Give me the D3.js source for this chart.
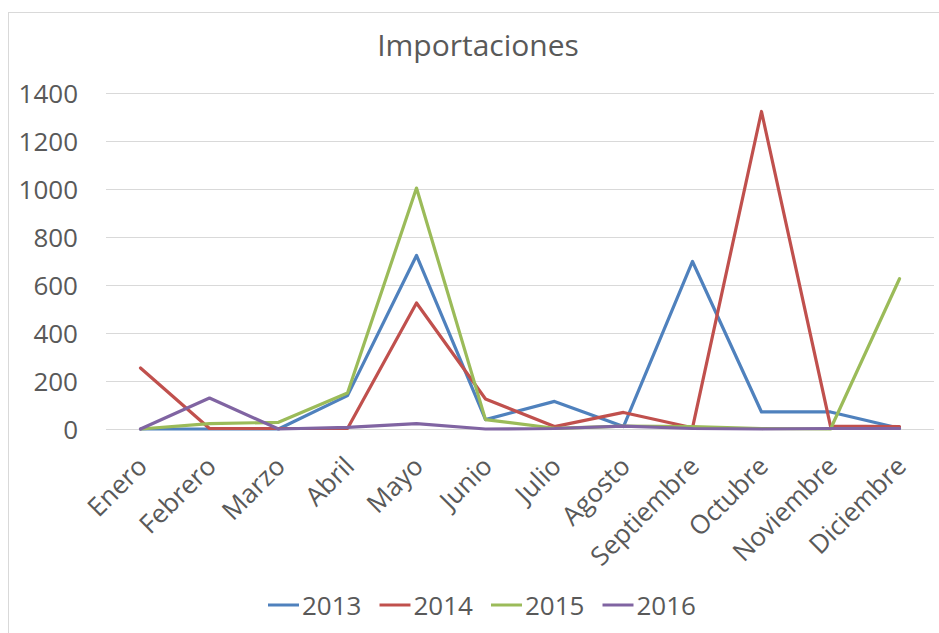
<!DOCTYPE html>
<html>
<head>
<meta charset="utf-8">
<script src="https://cdn.jsdelivr.net/npm/d3@7"></script>
<style>
  html, body { margin: 0; padding: 0; background: #fff; }
  svg { display: block; }
  text { font-family: "Open Sans", sans-serif; fill: #595959; }
</style>
</head>
<body>
<div id="chart"></div>
<script>
const months = ["Enero","Febrero","Marzo","Abril","Mayo","Junio","Julio","Agosto","Septiembre","Octubre","Noviembre","Diciembre"];
const years = ["2013","2014","2015","2016"];
const s2013 = [0, 0, 0, 139, 723, 39, 115, 10, 698, 71, 71, 3];
const s2014 = [254, 2, 2, 2, 525, 125, 10, 69, 5, 1323, 12, 10];
const s2015 = [0, 22, 28, 150, 1004, 39, 3, 12, 10, 2, 0, 626];
const s2016 = [0, 129, 0, 7, 22, 0, 2, 12, 2, 0, 2, 2];
const yTicks = [0, 200, 400, 600, 800, 1000, 1200, 1400];
const colors = ["#4F81BD", "#C0504D", "#9BBB59", "#8064A2"];

const series = [s2013, s2014, s2015, s2016];
const W = 939, H = 633;
const plot = {left: 106, right: 934, top: 93, bottom: 429};

const svg = d3.select("#chart").append("svg").attr("width", W).attr("height", H);

// frame
svg.append("rect").attr("x", 8.5).attr("y", 12.5).attr("width", W + 10).attr("height", H + 10)
  .attr("fill", "#fff").attr("stroke", "#D9D9D9").attr("stroke-width", 1);

const x = d3.scalePoint().domain(months).range([plot.left, plot.right]).padding(0.5);
const y = d3.scaleLinear().domain([0, 1400]).range([plot.bottom, plot.top]);

// gridlines
svg.append("g").selectAll("line").data(yTicks).join("line")
  .attr("x1", plot.left).attr("x2", plot.right)
  .attr("y1", d => Math.round(y(d)) + 0.5).attr("y2", d => Math.round(y(d)) + 0.5)
  .attr("stroke", "#D9D9D9").attr("stroke-width", 1);

// y axis labels
const yAxis = d3.axisLeft(y).tickValues(yTicks).tickSize(0).tickPadding(0).tickFormat(d3.format("d"));
const yg = svg.append("g").attr("transform", `translate(78,0)`).call(yAxis);
yg.select(".domain").remove();
yg.selectAll("text").style("font-size", "26px").attr("fill", "#595959").attr("dy", "0.35em");

// x axis labels
const xAxis = d3.axisBottom(x).tickSize(0).tickPadding(0);
const xg = svg.append("g").attr("transform", `translate(0,${plot.bottom})`).call(xAxis);
xg.select(".domain").remove();
xg.selectAll("text")
  .style("font-size", "26px").attr("fill", "#595959")
  .attr("text-anchor", "end")
  .attr("dy", null).attr("y", null)
  .attr("transform", "translate(-8,23) rotate(-45)")
  .attr("dominant-baseline", "hanging");

// lines
const line = d3.line().x((d, i) => x(months[i])).y(d => y(d));
series.forEach((s, k) => {
  svg.append("path").datum(s).attr("d", line)
    .attr("fill", "none").attr("stroke", colors[k]).attr("stroke-width", 3.2)
    .attr("stroke-linejoin", "round").attr("stroke-linecap", "round");
});

// title
svg.append("text").attr("x", 478).attr("y", 56).attr("text-anchor", "middle")
  .style("font-size", "30px").text("Importaciones");

// legend
const lg = svg.append("g");
years.forEach((yr, k) => {
  const gx = 268 + k * 111.5;
  lg.append("line").attr("x1", gx).attr("x2", gx + 31).attr("y1", 605).attr("y2", 605)
    .attr("stroke", colors[k]).attr("stroke-width", 3);
  lg.append("text").attr("x", gx + 34).attr("y", 606).attr("dy", "0.35em")
    .style("font-size", "26px").text(yr);
});
</script>
</body>
</html>
